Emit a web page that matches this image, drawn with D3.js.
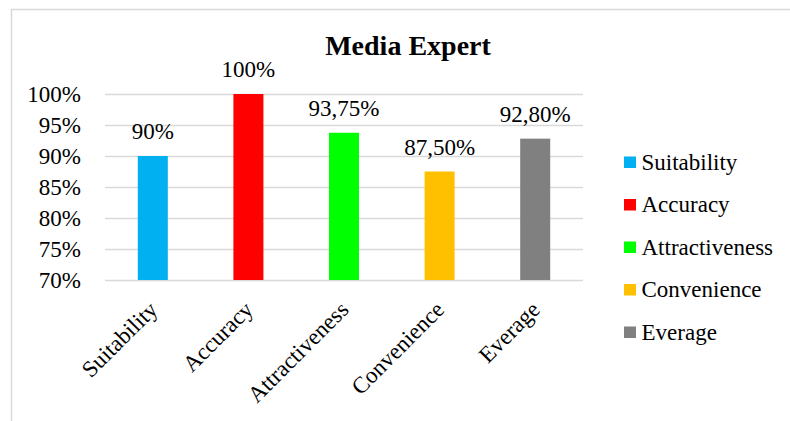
<!DOCTYPE html>
<html>
<head>
<meta charset="utf-8">
<script src="https://cdn.jsdelivr.net/npm/d3@7/dist/d3.min.js"></script>
<style>
  body { margin: 0; background: #fff; }
</style>
</head>
<body>
<div id="chart"></div>
<script>
// chart data
var categories = ["Suitability", "Accuracy", "Attractiveness", "Convenience", "Everage"];
var values = [90, 100, 93.75, 87.5, 92.8];
var valueLabels = ["90%", "100%", "93,75%", "87,50%", "92,80%"];
var colors = ["#00b0f0", "#ff0000", "#00ff00", "#ffc000", "#808080"];
var yTicks = [70, 75, 80, 85, 90, 95, 100];

var serif = "'Liberation Serif', 'Times New Roman', Times, serif";

var width = 790,
    height = 421,
    plot = {left: 105, right: 583, top: 94, bottom: 280};

var svg = d3.select("#chart").append("svg")
    .attr("width", width)
    .attr("height", height)
    .style("font-family", serif);

// outer frame (only top and left edges are visible in the picture)
svg.append("path")
    .attr("d", "M11.5," + height + "V9.5H" + width)
    .attr("fill", "none")
    .attr("stroke", "#d9d9d9")
    .attr("stroke-width", 1.5);

var x = d3.scaleBand()
    .domain(categories)
    .range([plot.left, plot.right])
    .paddingInner(0.686)
    .paddingOuter(0.343);

var y = d3.scaleLinear()
    .domain([70, 100])
    .range([plot.bottom, plot.top]);

// title
svg.append("text")
    .attr("x", 408)
    .attr("y", 55)
    .attr("text-anchor", "middle")
    .style("font-family", serif)
    .style("font-size", "28px")
    .style("font-weight", "bold")
    .text("Media Expert");

// gridlines + y labels
var yAxis = d3.axisLeft(y)
    .tickValues(yTicks)
    .tickSize(-(plot.right - plot.left))
    .tickPadding(24)
    .tickFormat(function(d) { return d + "%"; });

var gy = svg.append("g")
    .attr("transform", "translate(" + plot.left + ",0)")
    .call(yAxis);
gy.attr("font-family", null);
gy.select(".domain").remove();
gy.selectAll("line").attr("stroke", "#d9d9d9").attr("stroke-width", 1.3);
gy.selectAll("text")
    .attr("fill", "#000")
    .style("font-family", serif)
    .style("font-size", "23px")
    .attr("dy", "0.33em");

// bars
svg.selectAll(".bar").data(values).enter()
    .append("rect")
    .attr("class", "bar")
    .attr("x", function(d, i) { return x(categories[i]); })
    .attr("width", x.bandwidth())
    .attr("y", function(d) { return y(d); })
    .attr("height", function(d) { return y(70) - y(d); })
    .attr("fill", function(d, i) { return colors[i]; });

// value labels
svg.selectAll(".val").data(values).enter()
    .append("text")
    .attr("class", "val")
    .attr("x", function(d, i) { return x(categories[i]) + x.bandwidth() / 2; })
    .attr("y", function(d) { return y(d) - 17; })
    .attr("text-anchor", "middle")
    .style("font-family", serif)
    .style("font-size", "23px")
    .text(function(d, i) { return valueLabels[i]; });

// rotated category labels
svg.selectAll(".cat").data(categories).enter()
    .append("text")
    .attr("class", "cat")
    .attr("text-anchor", "end")
    .attr("transform", function(d) {
        return "translate(" + (x(d) + x.bandwidth() / 2 + 6) + ",311) rotate(-45)";
    })
    .style("font-family", serif)
    .style("font-size", "23px")
    .text(function(d) { return d; });

// legend
var legend = svg.selectAll(".legend").data(categories).enter()
    .append("g")
    .attr("class", "legend")
    .attr("transform", function(d, i) { return "translate(624," + (169.5 + i * 42.5) + ")"; });

legend.append("rect")
    .attr("x", 0)
    .attr("y", -13)
    .attr("width", 12)
    .attr("height", 11.5)
    .attr("fill", function(d, i) { return colors[i]; });

legend.append("text")
    .attr("x", 17.5)
    .attr("y", 0)
    .style("font-family", serif)
    .style("font-size", "23px")
    .text(function(d) { return d; });
</script>
</body>
</html>
